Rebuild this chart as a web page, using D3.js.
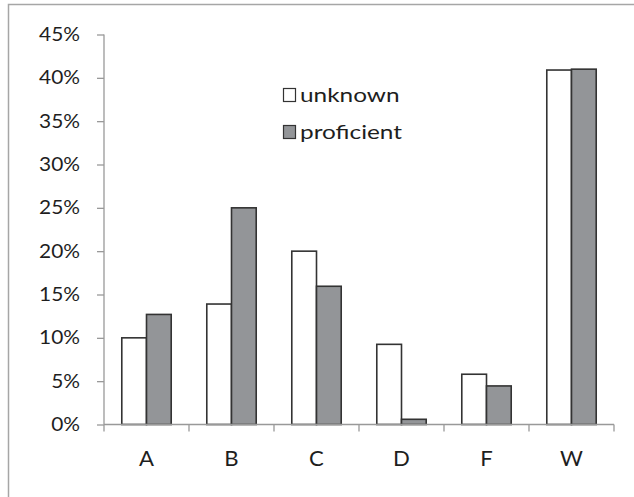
<!DOCTYPE html>
<html><head><meta charset="utf-8">
<script src="https://cdn.jsdelivr.net/npm/d3@7"></script>
<style>body{margin:0;background:#fff}svg{display:block}text{font-family:Lato,"Open Sans",sans-serif;fill:#1e1e1e}</style>
</head><body><svg width="634" height="497"></svg>
<script>
const categories = ["A","B","C","D","F","W"];
const seriesNames = ["unknown","proficient"];
const unknownValues = [10.0, 13.9, 20.0, 9.25, 5.8, 40.9];
const proficientValues = [12.7, 25.0, 15.95, 0.6, 4.45, 41.0];
const yTicks = [0,5,10,15,20,25,30,35,40,45];

const svg = d3.select("svg");
// outer frame (top & left visible)
svg.append("path").attr("d","M8.5,497 L8.5,4.5 L634,4.5").attr("fill","none").attr("stroke","#a6a6a6").attr("stroke-width",1.5);

const x0 = 104, x1 = 614, yTop = 34.5, yBot = 424.5;
const x = d3.scaleBand().domain(categories).range([x0,x1]).paddingInner(0).paddingOuter(0);
const xs = d3.scaleBand().domain(seriesNames).range([0,x.bandwidth()]).paddingInner(0).paddingOuter(0.72);
const y = d3.scaleLinear().domain([0,45]).range([yBot,yTop]);

const gy = svg.append("g").attr("transform",`translate(${x0},0)`)
  .call(d3.axisLeft(y).tickValues(yTicks).tickSize(7).tickPadding(17).tickFormat(d=>d+"%"));
gy.selectAll("path,line").attr("stroke","#999").attr("stroke-width",1.3);
gy.select(".domain").attr("d",`M0,${yTop}V${yBot}`);
gy.selectAll("text").attr("font-size",18.5).attr("font-family","Lato, sans-serif").attr("fill","#1e1e1e")
  .each(function(){
    const t = d3.select(this); const xv = +t.attr("x");
    t.attr("x",0).attr("transform",`translate(${xv},0) scale(1.13,1)`);
  });

const data = categories.map((c,i)=>({c, vals:[unknownValues[i], proficientValues[i]]}));
const fills = ["#ffffff","#939598"];
const g = svg.append("g");
data.forEach(d=>{
  d.vals.forEach((v,j)=>{
    g.append("rect").attr("x",x(d.c)+xs(seriesNames[j])).attr("width",xs.bandwidth())
      .attr("y",y(v)).attr("height",yBot-y(v))
      .attr("fill",fills[j]).attr("stroke","#333").attr("stroke-width",1.6);
  });
});

// x axis with ticks at category boundaries
const gx = svg.append("g").attr("transform",`translate(0,${yBot})`);
gx.append("line").attr("x1",x0).attr("x2",x1).attr("stroke","#999").attr("stroke-width",1.3);
const bounds = categories.map(c=>x(c)).concat([x1]);
gx.selectAll("line.t").data(bounds).enter().append("line").attr("class","t")
  .attr("x1",d=>d).attr("x2",d=>d).attr("y1",0).attr("y2",7).attr("stroke","#999").attr("stroke-width",1.3);
gx.selectAll("text").data(categories).enter().append("text")
  .attr("transform",d=>`translate(${x(d)+x.bandwidth()/2},41) scale(1.08,1)`)
  .attr("text-anchor","middle").attr("font-size",20.5).text(d=>d);

// legend
const leg = svg.append("g");
const legY = [95, 132];
seriesNames.forEach((s,i)=>{
  leg.append("rect").attr("x",283.5).attr("y",legY[i]-6.5).attr("width",12).attr("height",13)
    .attr("fill",fills[i]).attr("stroke","#333").attr("stroke-width",1.2);
  leg.append("text").attr("transform",`translate(300,${legY[i]+6.5}) scale(1.25,1)`).attr("font-size",19.5).text(s);
});
</script></body></html>
